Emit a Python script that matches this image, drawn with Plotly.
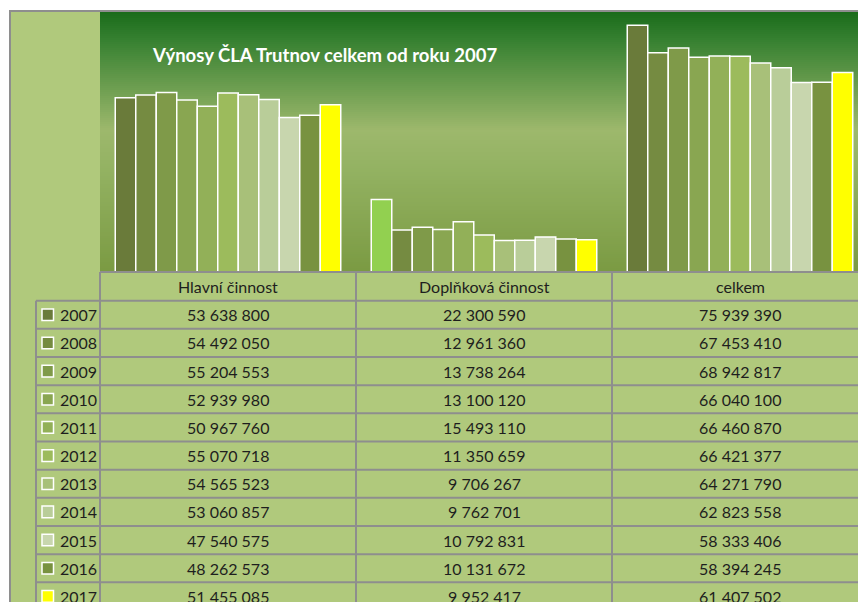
import plotly.graph_objects as go

# ---------------- data ----------------
years = ["2007", "2008", "2009", "2010", "2011", "2012", "2013", "2014", "2015", "2016", "2017"]
categories = ["Hlavní činnost", "Doplňková činnost", "celkem"]
hlavni = [53638800, 54492050, 55204553, 52939980, 50967760, 55070718, 54565523, 53060857, 47540575, 48262573, 51455085]
doplnkova = [22300590, 12961360, 13738264, 13100120, 15493110, 11350659, 9706267, 9762701, 10792831, 10131672, 9952417]
celkem = [75939390, 67453410, 68942817, 66040100, 66460870, 66421377, 64271790, 62823558, 58333406, 58394245, 61407502]
title_text = "Výnosy ČLA Trutnov celkem od roku 2007"

# ---------------- styles ----------------
year_colors = ["#6A7B3A", "#758B41", "#7F9A49", "#89A651", "#92B058", "#9CBB5C",
               "#A8C079", "#B9CD99", "#C8D6AE", "#789240", "#FFFF00"]
special_color = "#92D050"   # 2007 / Doplňková činnost
W, H = 858, 602
FONT = "Lato"
GRID = "#8E8E8E"
PANEL = "#B0C97C"
TEXT = "#1E1E1E"

def px(x):
    return x / W

def py(y):
    return 1 - y / H

# plot area geometry (pixels)
PL, PT, PB = 100, 12, 272
COLW = 256
col_edges = [PL + i * COLW for i in range(4)]
row_top = 300.7
row_h = 28.16

fig = go.Figure()

series = list(zip(hlavni, doplnkova, celkem))
for i, yr in enumerate(years):
    vals = list(series[i])
    colors = [year_colors[i]] * 3
    if i == 0:
        colors[1] = special_color
    fig.add_trace(go.Bar(
        name=yr, x=categories, y=vals,
        marker=dict(color=colors, line=dict(color="white", width=1.5)),
        showlegend=False, hoverinfo="x+y+name",
    ))

# ---------------- background gradient for plot area ----------------
stops = [(0.0, (0x1B, 0x6C, 0x1B)), (0.1, (0x35, 0x80, 0x30)), (0.25, (0x62, 0x98, 0x4A)),
         (0.45, (0x9D, 0xB8, 0x6C)), (0.6, (0x93, 0xB2, 0x62)), (0.8, (0x87, 0xA6, 0x52)),
         (1.0, (0x7A, 0x9A, 0x42))]

def grad(t):
    for (t0, c0), (t1, c1) in zip(stops[:-1], stops[1:]):
        if t0 <= t <= t1:
            f = (t - t0) / (t1 - t0)
            c = [round(a + (b - a) * f) for a, b in zip(c0, c1)]
            return "rgb(%d,%d,%d)" % tuple(c)
    return "rgb(122,154,66)"

shapes = []
# white outer margins
shapes.append(dict(type="rect", xref="paper", yref="paper", x0=0, x1=1, y0=py(11), y1=1,
                   fillcolor="white", line=dict(width=0), layer="below"))
shapes.append(dict(type="rect", xref="paper", yref="paper", x0=0, x1=px(9), y0=0, y1=1,
                   fillcolor="white", line=dict(width=0), layer="below"))
step = 2
y = PT
while y < PB:
    y2 = min(y + step, PB)
    t = (y - PT) / (PB - PT)
    shapes.append(dict(type="rect", xref="paper", yref="paper", x0=px(PL), x1=1,
                       y0=py(y2 + 0.5), y1=py(y), fillcolor=grad(t), line=dict(width=0), layer="below"))
    y = y2

# outer border
shapes.append(dict(type="line", xref="paper", yref="paper", x0=px(9), x1=1, y0=py(11), y1=py(11),
                   line=dict(color=GRID, width=2)))
shapes.append(dict(type="line", xref="paper", yref="paper", x0=px(10), x1=px(10), y0=py(11), y1=0,
                   line=dict(color=GRID, width=2)))

# table lines
table_bottom = H + 10
shapes.append(dict(type="line", xref="paper", yref="paper", x0=px(PL), x1=1, y0=py(PB), y1=py(PB),
                   line=dict(color=GRID, width=2)))
for r in range(len(years) + 1):
    yy = row_top + r * row_h
    shapes.append(dict(type="line", xref="paper", yref="paper", x0=px(36), x1=1, y0=py(yy), y1=py(yy),
                       line=dict(color=GRID, width=2)))
for xe in col_edges[:3]:
    shapes.append(dict(type="line", xref="paper", yref="paper", x0=px(xe), x1=px(xe), y0=py(PB), y1=py(table_bottom),
                       line=dict(color=GRID, width=2)))
shapes.append(dict(type="line", xref="paper", yref="paper", x0=px(36), x1=px(36), y0=py(row_top), y1=py(table_bottom),
                   line=dict(color=GRID, width=2)))

annotations = []
annotations.append(dict(text="<b>" + title_text + "</b>", xref="paper", yref="paper", x=px(150), y=py(55),
                        xanchor="left", yanchor="middle", showarrow=False,
                        font=dict(family=FONT, size=18.5, color="white")))
for j, cat in enumerate(categories):
    cx = col_edges[j] + COLW / 2
    annotations.append(dict(text=cat, xref="paper", yref="paper", x=px(cx), y=py(286.5),
                            xanchor="center", yanchor="middle", showarrow=False,
                            font=dict(family=FONT, size=16, color=TEXT)))

def fmt(v):
    return "{:,}".format(v).replace(",", " ")

for i, yr in enumerate(years):
    cy = row_top + (i + 0.5) * row_h
    # legend key
    shapes.append(dict(type="rect", xref="paper", yref="paper", x0=px(42), x1=px(53.5),
                       y0=py(cy + 5.8), y1=py(cy - 5.8), fillcolor=year_colors[i],
                       line=dict(color="white", width=1.5)))
    annotations.append(dict(text=yr, xref="paper", yref="paper", x=px(57.5), y=py(cy),
                            xanchor="left", yanchor="middle", showarrow=False,
                            font=dict(family=FONT, size=16, color=TEXT)))
    for j, vals in enumerate([hlavni, doplnkova, celkem]):
        cx = col_edges[j] + COLW / 2
        annotations.append(dict(text=fmt(vals[i]), xref="paper", yref="paper", x=px(cx), y=py(cy),
                                xanchor="center", yanchor="middle", showarrow=False,
                                font=dict(family=FONT, size=16, color=TEXT)))

fig.update_layout(
    width=W, height=H,
    margin=dict(l=0, r=0, t=0, b=0),
    paper_bgcolor=PANEL,
    plot_bgcolor="rgba(0,0,0,0)",
    barmode="group",
    bargap=30.5 / 256,
    bargroupgap=0,
    shapes=shapes,
    annotations=annotations,
    xaxis=dict(domain=[px(PL), 1], range=[-0.5, 2.5 - 10 / 256], showticklabels=False,
               showgrid=False, zeroline=False, showline=False, ticks="", fixedrange=True),
    yaxis=dict(domain=[py(PB), py(PT)], range=[0, 80e6], showticklabels=False,
               showgrid=False, zeroline=False, showline=False, ticks="", fixedrange=True),
    showlegend=False,
)

fig.write_html("out.html", config={"displayModeBar": False},
               post_script="document.body.style.margin='0';document.body.style.overflow='hidden';")
